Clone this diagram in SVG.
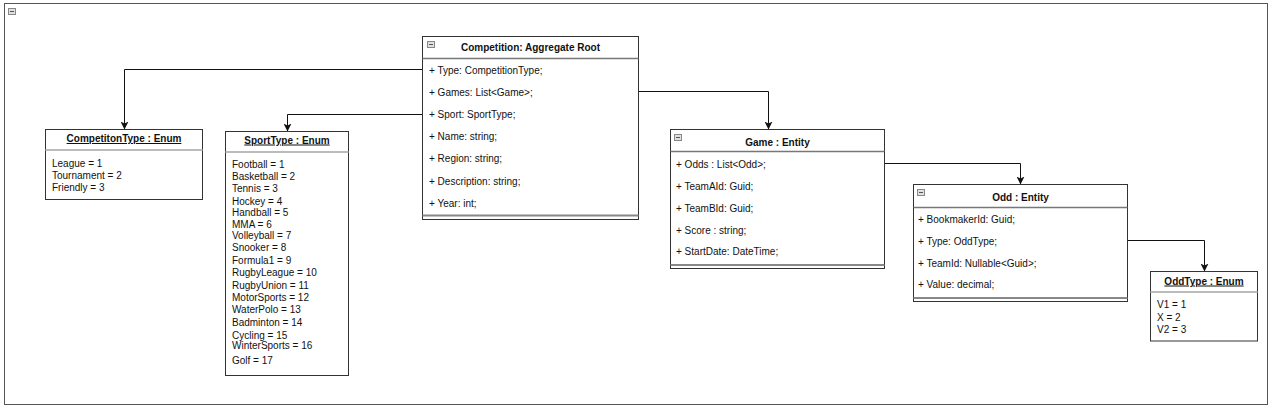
<svg xmlns="http://www.w3.org/2000/svg" width="1277" height="413" viewBox="0 0 1277 413">
<style>
text{font-family:"Liberation Sans",Arial,sans-serif;font-size:10px;fill:#111}
.t{font-weight:bold;text-anchor:middle}
.u{text-decoration:underline}
.box{fill:#fff;stroke:#333;stroke-width:1}
.hs{stroke:#777;stroke-width:1.5}
.es{stroke:#bbb;stroke-width:2}
.bs{stroke:#888;stroke-width:2}
.ic{fill:#e0e0e0;stroke:#888;stroke-width:1}
.cn{fill:none;stroke:#111;stroke-width:1}
</style>
<defs>
<marker id="ah" markerUnits="userSpaceOnUse" markerWidth="8" markerHeight="8" refX="8" refY="4" orient="auto">
<path d="M0,0 L8,4 L0,8 L2,4 z" fill="#111"/>
</marker>
<g id="icon"><rect class="ic" x="0.5" y="0.5" width="7" height="6"/><line x1="2" y1="3.5" x2="6" y2="3.5" stroke="#555" stroke-width="1"/></g>
</defs>
<rect x="0" y="0" width="1277" height="413" fill="#fff"/>
<g id="frame">
<rect x="4.5" y="3.5" width="1263" height="401" fill="#fff" stroke="#555"/>
<use href="#icon" x="8" y="8"/>
</g>
<g id="connectors">
<path class="cn" d="M422.5 69.5 H124.5 V129.5" marker-end="url(#ah)"/>
<path class="cn" d="M422.5 114.5 H287.5 V131.5" marker-end="url(#ah)"/>
<path class="cn" d="M638.5 91.5 H768.5 V129.5" marker-end="url(#ah)"/>
<path class="cn" d="M884.5 163.5 H1020.5 V184.5" marker-end="url(#ah)"/>
<path class="cn" d="M1127.5 240.5 H1204.5 V271.5" marker-end="url(#ah)"/>
</g>
<g id="competition">
<rect class="box" x="422.5" y="36.5" width="216" height="183"/>
<use href="#icon" x="427" y="41"/>
<text class="t" x="530.5" y="51">Competition: Aggregate Root</text>
<line class="hs" x1="422.5" y1="58.5" x2="638.5" y2="58.5"/>
<text x="429" y="73.5">+ Type: CompetitionType;</text>
<text x="429" y="95.5">+ Games: List&lt;Game&gt;;</text>
<text x="429" y="118">+ Sport: SportType;</text>
<text x="429" y="140">+ Name: string;</text>
<text x="429" y="162">+ Region: string;</text>
<text x="429" y="184.5">+ Description: string;</text>
<text x="429" y="206.5">+ Year: int;</text>
<line class="bs" x1="422.5" y1="215.5" x2="638.5" y2="215.5"/>
</g>
<g id="competitionType">
<rect class="box" x="45.5" y="129.5" width="157" height="70"/>
<text class="t u" x="124" y="142">CompetitonType : Enum</text>
<line class="es" x1="45.5" y1="150" x2="202.5" y2="150"/>
<text x="52" y="166.5">League = 1</text>
<text x="52" y="179">Tournament = 2</text>
<text x="52" y="191">Friendly = 3</text>
</g>
<g id="sportType">
<rect class="box" x="225.5" y="131.5" width="123" height="244"/>
<text class="t u" x="287" y="143.5">SportType : Enum</text>
<line class="es" x1="225.5" y1="152" x2="348.5" y2="152"/>
<text x="232" y="167.8">Football = 1</text>
<text x="232" y="179.5">Basketball = 2</text>
<text x="232" y="192.2">Tennis = 3</text>
<text x="232" y="204.5">Hockey = 4</text>
<text x="232" y="216.2">Handball = 5</text>
<text x="232" y="227.5">MMA = 6</text>
<text x="232" y="239.2">Volleyball = 7</text>
<text x="232" y="250.8">Snooker = 8</text>
<text x="232" y="263.5">Formula1 = 9</text>
<text x="232" y="275.8">RugbyLeague = 10</text>
<text x="232" y="288.5">RugbyUnion = 11</text>
<text x="232" y="300.8">MotorSports = 12</text>
<text x="232" y="313.2">WaterPolo = 13</text>
<text x="232" y="325.8">Badminton = 14</text>
<text x="232" y="338.5">Cycling = 15</text>
<text x="232" y="349.2">WinterSports = 16</text>
<text x="232" y="363.5">Golf = 17</text>
</g>
<g id="game">
<rect class="box" x="670.5" y="129.5" width="214" height="139"/>
<use href="#icon" x="674" y="134"/>
<text class="t" x="777.5" y="145.5">Game : Entity</text>
<line class="hs" x1="670.5" y1="151.5" x2="884.5" y2="151.5"/>
<text x="676" y="168">+ Odds : List&lt;Odd&gt;;</text>
<text x="676" y="189.5">+ TeamAId: Guid;</text>
<text x="676" y="211.5">+ TeamBId: Guid;</text>
<text x="676" y="233.5">+ Score : string;</text>
<text x="676" y="254.5">+ StartDate: DateTime;</text>
<line class="bs" x1="670.5" y1="265" x2="884.5" y2="265"/>
</g>
<g id="odd">
<rect class="box" x="913.5" y="184.5" width="214" height="117"/>
<use href="#icon" x="917" y="189"/>
<text class="t" x="1020.5" y="200.5">Odd : Entity</text>
<line class="hs" x1="913.5" y1="207.5" x2="1127.5" y2="207.5"/>
<text x="918" y="223">+ BookmakerId: Guid;</text>
<text x="918" y="244.5">+ Type: OddType;</text>
<text x="918" y="266.5">+ TeamId: Nullable&lt;Guid&gt;;</text>
<text x="918" y="288">+ Value: decimal;</text>
<line class="bs" x1="913.5" y1="298" x2="1127.5" y2="298"/>
</g>
<g id="oddType">
<rect class="box" x="1150.5" y="271.5" width="107" height="69.5"/>
<text class="t u" x="1204" y="284.5">OddType : Enum</text>
<line class="es" x1="1150.5" y1="292" x2="1257.5" y2="292"/>
<text x="1157" y="308">V1 = 1</text>
<text x="1157" y="320.5">X = 2</text>
<text x="1157" y="333">V2 = 3</text>
</g>
</svg>
